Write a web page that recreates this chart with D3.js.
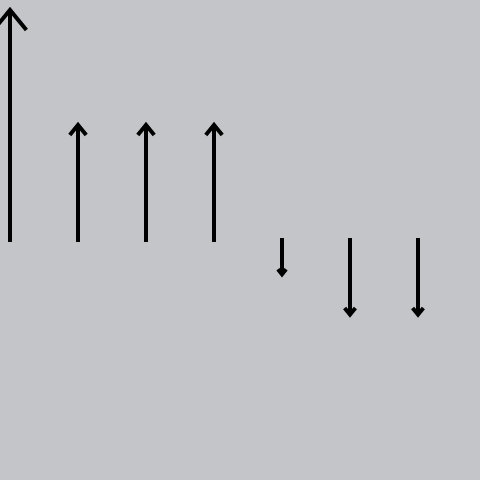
<!DOCTYPE html>
<html>
<head>
<meta charset="utf-8">
<script src="https://cdn.jsdelivr.net/npm/d3@7"></script>
<style>
  html, body { margin: 0; padding: 0; background: #c4c5c9; }
  svg { display: block; }
</style>
</head>
<body>
<script>
// Data
const categories = ["A", "B", "C", "D", "E", "F", "G"];
const values = [6, 3, 3, 3, -0.92, -1.97, -1.97];

const W = 480, H = 480;
const svg = d3.select("body").append("svg")
  .attr("width", W).attr("height", H);

svg.append("rect").attr("width", W).attr("height", H).attr("fill", "#c4c5c9");

const x = d3.scalePoint().domain(categories).range([10, 418]);
const y = d3.scaleLinear().domain([0, 6]).range([240, 10]);

const g = svg.append("g");

categories.forEach((c, i) => {
  const v = values[i];
  const cx = x(c);
  const y0 = y(0);
  const y1 = y(v);
  const len = Math.abs(y1 - y0);
  const dir = v >= 0 ? 1 : -1; // 1 = up
  const hl = Math.max(5, 0.087 * len);
  const hw = 0.82 * hl;
  const tailStart = v >= 0 ? y0 + 2 : y0 - 2;
  const tip = v >= 0 ? y1 : y1 - 1;
  // shaft
  g.append("line")
    .attr("x1", cx).attr("x2", cx)
    .attr("y1", tailStart).attr("y2", tip + dir * 1)
    .attr("stroke", "#000").attr("stroke-width", 4);
  // head (open chevron)
  const path = d3.path();
  path.moveTo(cx - hw, tip + dir * hl);
  path.lineTo(cx, tip);
  path.lineTo(cx + hw, tip + dir * hl);
  g.append("path")
    .attr("d", path.toString())
    .attr("fill", "none")
    .attr("stroke", "#000")
    .attr("stroke-width", 4)
    .attr("stroke-linejoin", "miter")
    .attr("stroke-miterlimit", 10);
});
</script>
</body>
</html>
